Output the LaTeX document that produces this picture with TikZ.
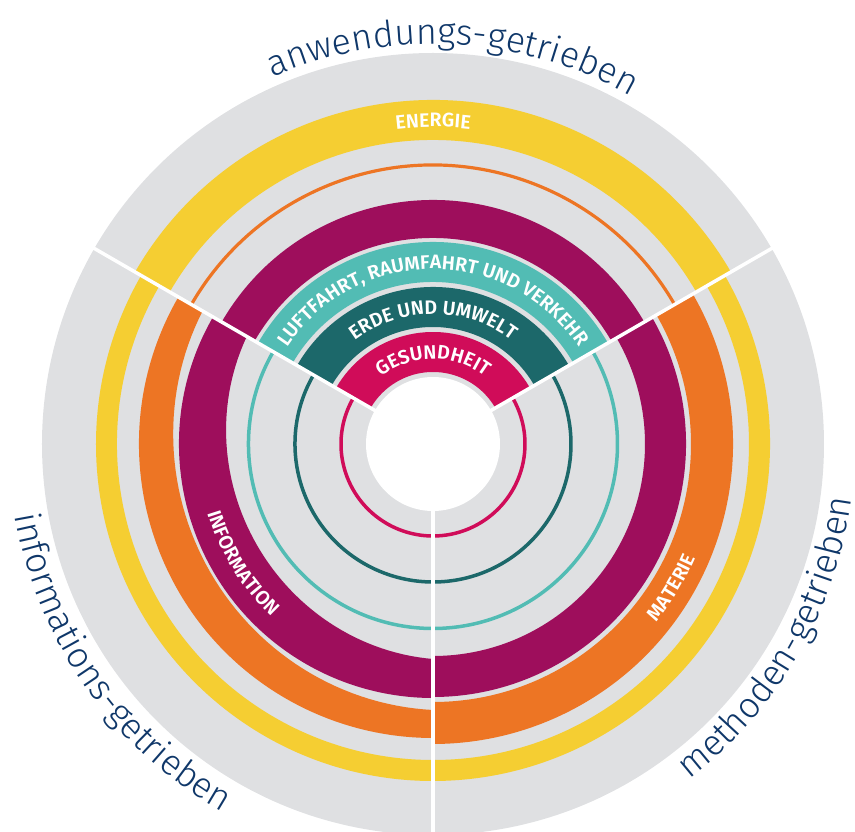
\documentclass[tikz,border=0pt]{standalone}
\usepackage{fontspec}
\usetikzlibrary{decorations.text}
\newfontfamily\titlefont{Fira Sans Light}
\newfontfamily\bandfont{Fira Sans SemiBold}
\newcommand\bandfmt{\bandfont\fontsize{19.5pt}{20pt}\selectfont}
\newcommand\titlefmt{\titlefont\fontsize{36pt}{38pt}\selectfont}
\definecolor{cgray}{RGB}{223,224,226}
\definecolor{cyel}{RGB}{245,206,50}
\definecolor{cora}{RGB}{237,117,36}
\definecolor{cpur}{RGB}{158,14,92}
\definecolor{cteal}{RGB}{82,188,180}
\definecolor{cdteal}{RGB}{28,104,106}
\definecolor{cmag}{RGB}{208,12,89}
\definecolor{cnavy}{RGB}{15,55,105}
% annular sector: colour, start angle, end angle, inner r, outer r
\newcommand\ringband[5]{\fill[#1] (#2:#4pt) arc[start angle=#2,end angle=#3,radius=#4pt] -- (#3:#5pt) arc[start angle=#3,end angle=#2,radius=#5pt] -- cycle;}
% thin ring: colour, start angle, end angle, r, width
\newcommand\ringline[5]{\draw[#1,line width=#5pt] (#2:#4pt) arc[start angle=#2,end angle=#3,radius=#4pt];}
\tikzset{
  bandlabel/.style={decorate,decoration={text along path,text align=center,text color=white,text={|\bandfmt|#1}}},
  titlelabel/.style={decorate,decoration={text along path,text align=center,text color=cnavy,text={|\titlefmt|#1}}},
  divider/.style={white,line width=3.5pt}
}
\begin{document}
\begin{tikzpicture}
\useasboundingbox (-433pt,-388pt) rectangle (422pt,444pt);
\fill[cgray] (0,0) circle (391pt);
% top sector (anwendungs-getrieben)
\ringband{cyel}{30}{150}{304}{344}
\ringline{cora}{30}{150}{279}{3.2}
\ringband{cpur}{30}{150}{206}{244}
\ringband{cteal}{30}{150}{162}{202}
\ringband{cdteal}{30}{150}{117}{157}
\ringband{cmag}{30}{150}{72}{112}
% left sector (informations-getrieben)
\ringband{cyel}{150}{270}{316}{337}
\fill[cora] (150:294pt) arc[start angle=150,end angle=270,radius=294pt]
  -- plot[domain=270:150,samples=61,variable=\t] ({\t}:{(266-9*sin(1.5*(\t-150)))*1pt}) -- cycle;
\fill[cpur] (150:254pt) arc[start angle=150,end angle=270,radius=254pt]
  -- plot[domain=270:150,samples=61,variable=\t] ({\t}:{(215-12*sin(1.5*(\t-150)))*1pt}) -- cycle;
\ringline{cteal}{150}{270}{184.5}{3.5}
\ringline{cdteal}{150}{270}{138}{3.5}
\ringline{cmag}{150}{270}{92}{3.5}
% right sector (methoden-getrieben)
\ringband{cyel}{-90}{30}{316}{337}
\ringband{cora}{-90}{30}{258}{300}
\ringband{cpur}{-90}{30}{212}{253}
\ringline{cteal}{-90}{30}{184.5}{3.5}
\ringline{cdteal}{-90}{30}{138}{3.5}
\ringline{cmag}{-90}{30}{92}{3.5}
% hole and dividers
\fill[white] (0,0) circle (67pt);
\foreach \a in {30,150,270} \draw[divider] (\a:60pt) -- (\a:396pt);
% band labels
\path[bandlabel={ENERGIE}] (150:317pt) arc[start angle=150,end angle=30,radius=317pt];
\path[bandlabel={LUFTFAHRT{,} RAUMFAHRT UND VERKEHR}] (150:175pt) arc[start angle=150,end angle=30,radius=175pt];
\path[bandlabel={ERDE UND UMWELT}] (150:130pt) arc[start angle=150,end angle=30,radius=130pt];
\path[bandlabel={GESUNDHEIT}] (150:85pt) arc[start angle=150,end angle=30,radius=85pt];
\path[bandlabel={INFORMATION}] (172:236pt) arc[start angle=172,end angle=252,radius=236pt];
\path[bandlabel={MATERIE}] (-61:286pt) arc[start angle=-61,end angle=-1,radius=286pt];
% sector titles
\path[titlelabel={anwendungs-getrieben}] (147:400pt) arc[start angle=147,end angle=27,radius=400pt];
\path[titlelabel={informations-getrieben}] (155:424pt) arc[start angle=155,end angle=275,radius=424pt];
\path[titlelabel={methoden-getrieben}] (-90:422pt) arc[start angle=-90,end angle=30,radius=422pt];
\end{tikzpicture}
\end{document}
